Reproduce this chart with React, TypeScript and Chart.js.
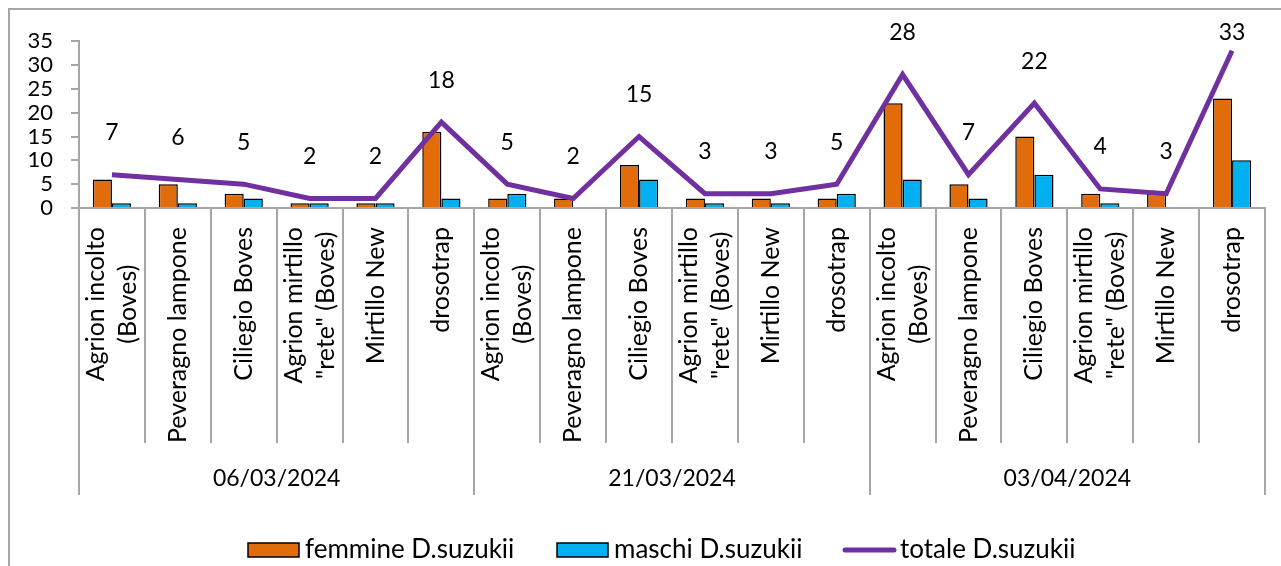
import React, { useEffect, useRef } from "react";
import { Chart, registerables } from "chart.js";

Chart.register(...registerables);

// ---------- data ----------
const dates = ["06/03/2024", "21/03/2024", "03/04/2024"];
const sites: string[][] = [
  ["Agrion incolto", "(Boves)"],
  ["Peveragno lampone"],
  ["Ciliegio Boves"],
  ["Agrion mirtillo", "\"rete\" (Boves)"],
  ["Mirtillo New"],
  ["drosotrap"],
];
const femmine = [6, 5, 3, 1, 1, 16, 2, 2, 9, 2, 2, 2, 22, 5, 15, 3, 3, 23];
const maschi = [1, 1, 2, 1, 1, 2, 3, 0, 6, 1, 1, 3, 6, 2, 7, 1, 0, 10];
const totale = [7, 6, 5, 2, 2, 18, 5, 2, 15, 3, 3, 5, 28, 7, 22, 4, 3, 33];
const seriesNames = ["femmine D.suzukii", "maschi D.suzukii", "totale D.suzukii"];
const yMin = 0;
const yMax = 35;
const yStep = 5;

const categories = dates.flatMap((d) => sites.map((s) => s));

// ---------- style ----------
const FONT = "Lato, 'Open Sans', sans-serif";
const ORANGE = "#E36C0A";
const BLUE = "#00B0F0";
const PURPLE = "#7030A0";
const GRID = "#A6A6A6";
const CAT_SIZE = 25;
const TXT = 23;
const LEGEND_SIZE = 26;
const LEGEND_X = [238, 547, 833];
const LEGEND_Y = 540;

const multiLevelAxis = {
  id: "multiLevelAxis",
  afterDraw(chart: any) {
    const { ctx, chartArea, scales } = chart;
    const x = scales.x;
    const n = categories.length;
    const catW = (chartArea.right - chartArea.left) / n;
    const bottom = chartArea.bottom;
    ctx.save();
    ctx.strokeStyle = GRID;
    ctx.lineWidth = 2;
    for (let i = 0; i <= n; i++) {
      const px = Math.round(chartArea.left + i * catW);
      const end = i % sites.length === 0 ? bottom + 287 : bottom + 235;
      ctx.beginPath();
      ctx.moveTo(px, bottom);
      ctx.lineTo(px, end);
      ctx.stroke();
    }
    ctx.fillStyle = "#000";
    ctx.font = `${CAT_SIZE}px ${FONT}`;
    ctx.textAlign = "center";
    ctx.textBaseline = "middle";
    const lh = 32;
    categories.forEach((lines, i) => {
      const cx = x.getPixelForValue(i);
      const w = Math.max(...lines.map((l) => ctx.measureText(l).width));
      const yc = bottom + 19 + w / 2;
      lines.forEach((l, k) => {
        ctx.save();
        ctx.translate(cx + (k - (lines.length - 1) / 2) * lh, yc);
        ctx.rotate(-Math.PI / 2);
        ctx.fillText(l, 0, 0);
        ctx.restore();
      });
    });
    ctx.font = `${TXT}px ${FONT}`;
    dates.forEach((d, g) => {
      const x0 = chartArea.left + g * sites.length * catW;
      const x1 = x0 + sites.length * catW;
      ctx.fillText(d, (x0 + x1) / 2, bottom + 271);
    });

    // legend
    ctx.font = `${LEGEND_SIZE}px ${FONT}`;
    ctx.textAlign = "left";
    const fills = [ORANGE, BLUE];
    seriesNames.forEach((name, i) => {
      const lx = LEGEND_X[i];
      if (i < 2) {
        ctx.fillStyle = fills[i];
        ctx.fillRect(lx, LEGEND_Y - 7, 51, 14);
        ctx.strokeStyle = "#000";
        ctx.lineWidth = 1.5;
        ctx.strokeRect(lx, LEGEND_Y - 7, 51, 14);
      } else {
        ctx.strokeStyle = PURPLE;
        ctx.lineWidth = 5;
        ctx.lineCap = "round";
        ctx.beginPath();
        ctx.moveTo(lx + 2, LEGEND_Y);
        ctx.lineTo(lx + 51, LEGEND_Y);
        ctx.stroke();
      }
      ctx.fillStyle = "#000";
      ctx.fillText(name, lx + 57, LEGEND_Y);
    });
    ctx.restore();
  },
};

const lineLabels = {
  id: "lineLabels",
  afterDatasetsDraw(chart: any) {
    const { ctx, chartArea } = chart;
    const meta = chart.getDatasetMeta(2);
    ctx.save();
    ctx.fillStyle = "#000";
    ctx.font = `${TXT}px ${FONT}`;
    ctx.textAlign = "center";
    ctx.textBaseline = "middle";
    meta.data.forEach((pt: any, i: number) => {
      const y = Math.max(pt.y - 42, chartArea.top - 9);
      ctx.fillText(String(totale[i]), pt.x, y);
    });
    ctx.restore();
  },
};

export default function App() {
  const ref = useRef<HTMLCanvasElement | null>(null);
  useEffect(() => {
    if (!ref.current) return;
    const chart = new Chart(ref.current, {
      type: "bar",
      data: {
        labels: categories as any,
        datasets: [
          {
            type: "bar",
            label: seriesNames[0],
            data: femmine,
            backgroundColor: ORANGE,
            borderColor: "#000",
            borderWidth: 1.5,
            categoryPercentage: 0.58,
            barPercentage: 1,
            order: 2,
          },
          {
            type: "bar",
            label: seriesNames[1],
            data: maschi,
            backgroundColor: BLUE,
            borderColor: "#000",
            borderWidth: 1.5,
            categoryPercentage: 0.58,
            barPercentage: 1,
            order: 2,
          },
          {
            type: "line",
            label: seriesNames[2],
            data: totale,
            borderColor: PURPLE,
            backgroundColor: PURPLE,
            borderWidth: 5,
            pointRadius: 0,
            tension: 0,
            order: 1,
          } as any,
        ],
      },
      options: {
        responsive: false,
        animation: false,
        layout: { padding: { left: 0, right: 16, top: 29, bottom: 0 } },
        scales: {
          x: {
            grid: { display: false },
            ticks: { display: false },
            border: { display: true, color: GRID, width: 2 },
            afterFit: (s: any) => {
              s.height = 358;
            },
          },
          y: {
            min: yMin,
            max: yMax,
            ticks: {
              stepSize: yStep,
              autoSkip: false,
              padding: 18,
              color: "#000",
              font: { family: FONT, size: 22 },
            },
            grid: {
              drawOnChartArea: false,
              drawTicks: true,
              tickLength: 8,
              color: GRID,
              lineWidth: 2,
            },
            border: { color: GRID, width: 2 },
            afterFit: (s: any) => {
              s.width = 69;
            },
          },
        },
        plugins: {
          tooltip: { enabled: false },
          legend: { display: false },
        },
      },
      plugins: [multiLevelAxis, lineLabels],
    });
    return () => chart.destroy();
  }, []);

  return (
    <div
      style={{
        position: "fixed",
        left: 8,
        top: 8,
        width: 1273,
        height: 558,
        borderLeft: `2px solid ${GRID}`,
        borderTop: `2px solid ${GRID}`,
        background: "#fff",
        overflow: "hidden",
      }}
    >
      <canvas ref={ref} width={1271} height={556} style={{ display: "block" }} />
    </div>
  );
}
